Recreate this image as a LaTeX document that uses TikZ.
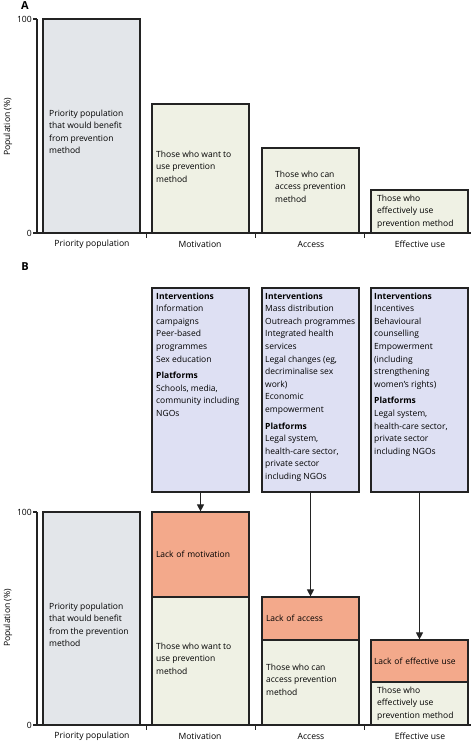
\documentclass[tikz,border=0pt]{standalone}
\usepackage{fontspec}
\setmainfont{Open Sans}
\usetikzlibrary{arrows.meta}

\definecolor{popgray}{RGB}{227,230,234}
\definecolor{usegreen}{RGB}{239,241,228}
\definecolor{lackred}{RGB}{243,169,139}
\definecolor{intblue}{RGB}{222,224,243}
\definecolor{edgegray}{RGB}{35,35,35}

\tikzset{
  txt/.style={font=\fontsize{8.5}{12.6}\selectfont, inner sep=0pt, align=left, anchor=north west, execute at begin node=\strut},
  catlabel/.style={font=\fontsize{8.6}{11}\selectfont, inner sep=0pt},
  bar/.style={draw=edgegray, line width=1.2pt},
  lackbar/.style={bar, fill=lackred, minimum width=97pt, text width=89pt, inner xsep=4pt, inner ysep=0pt, align=left, font=\fontsize{8.5}{12.6}\selectfont},
  intbox/.style={bar, fill=intblue, minimum width=97pt, minimum height=204pt, inner sep=0pt},
  axis/.style={draw=edgegray, line width=1.6pt},
  conn/.style={draw=edgegray, line width=1pt, -{Triangle[width=7pt,length=7pt]}},
  panel/.style={font=\fontsize{11}{13}\selectfont\bfseries, inner sep=0pt}
}

\begin{document}
\begin{tikzpicture}[x=1pt,y=1pt,yscale=-1,xscale=1]
\useasboundingbox (0,0) rectangle (474,742);

%%%%%%%%%%%%%%%% panel A
\node[panel] (labA) at (25,6) {A};
% axis label
\node[catlabel, rotate=90] (ylabA) at (8,127) {Population (\%)};

%Shape: bars
\draw[bar, fill=popgray] (43,19) rectangle (140,233);
\draw[bar, fill=usegreen] (152,104) rectangle (249,233);
\draw[bar, fill=usegreen] (262,148) rectangle (359,233);
\draw[bar, fill=usegreen] (371,190) rectangle (468,233);

%Straight Lines: axis
\draw[axis] (37,19) -- (37,233) -- (471,233);
\draw[axis] (33,19) -- (37,19);
\draw[axis] (33,233) -- (37,233);
\foreach \sx in {146,255,364} \draw[edgegray, line width=1pt] (\sx,233) -- (\sx,238);

% Text Node
\node[catlabel, anchor=east] (hundA) at (32,19) {100};
\node[catlabel, anchor=east] (zeroA) at (32,233) {0};
\node[txt] (popA) at (49,109.5) {Priority population\\that would benefit\\from prevention\\method};
\node[txt] (wantA) at (156,150.5) {Those who want to\\use prevention\\method};
\node[txt] (accA) at (275,170.5) {Those who can\\access prevention\\method};
\node[txt] (effA) at (377,194.5) {Those who\\effectively use\\prevention method};
\node[catlabel] (catpopA) at (92,244) {Priority population};
\node[catlabel] (catmotA) at (200,244) {Motivation};
\node[catlabel] (cataccA) at (311,244) {Access};
\node[catlabel] (cateffA) at (420,244) {Effective use};

%%%%%%%%%%%%%%%% panel B
\node[panel] (labB) at (25,267) {B};
\node[catlabel, rotate=90] (ylabB) at (8,618) {Population (\%)};

%Shape: intervention boxes
\node[intbox] (intmot) at (200.5,390) {};
\node[intbox] (intacc) at (310.5,390) {};
\node[intbox] (inteff) at (419.5,390) {};

% Text Node
\node[txt] (intmottxt) at (156,292.5) {\textbf{Interventions}\\Information\\campaigns\\Peer-based\\programmes\\Sex education\\[4pt]\textbf{Platforms}\\Schools, media,\\community including\\NGOs};
\node[txt] (intacctxt) at (265,292.5) {\textbf{Interventions}\\Mass distribution\\Outreach programmes\\Integrated health\\services\\Legal changes (eg,\\decriminalise sex\\work)\\Economic\\empowerment\\[4pt]\textbf{Platforms}\\Legal system,\\health-care sector,\\private sector\\including NGOs};
\node[txt] (intefftxt) at (374,292.5) {\textbf{Interventions}\\Incentives\\Behavioural\\counselling\\Empowerment\\(including\\strengthening\\women's rights)\\[4pt]\textbf{Platforms}\\Legal system,\\health-care sector,\\private sector\\including NGOs};

%Shape: bars
\draw[bar, fill=popgray] (43,512) rectangle (140,725);
\draw[bar, fill=usegreen] (152,597) rectangle (249,725);
\draw[bar, fill=usegreen] (262,640) rectangle (359,725);
\draw[bar, fill=usegreen] (371,682) rectangle (468,725);
\node[lackbar, minimum height=85pt] (lackmot) at (200.5,554.5) {Lack of motivation};
\node[lackbar, minimum height=43pt] (lackacc) at (310.5,618.5) {Lack of access};
\node[lackbar, minimum height=42pt, inner xsep=3pt, text width=91pt] (lackeff) at (419.5,661) {Lack of effective use};

%Straight Lines: axis
\draw[axis] (37,512) -- (37,725) -- (471,725);
\draw[axis] (33,512) -- (37,512);
\draw[axis] (33,725) -- (37,725);
\foreach \sx in {146,255,364} \draw[edgegray, line width=1pt] (\sx,725) -- (\sx,730);

% arrows
\draw[conn] (intmot.south) -- (lackmot.north);
\draw[conn] (intacc.south) -- (lackacc.north);
\draw[conn] (inteff.south) -- (lackeff.north);

% Text Node
\node[catlabel, anchor=east] (hundB) at (32,512) {100};
\node[catlabel, anchor=east] (zeroB) at (32,725) {0};
\node[txt] (popB) at (49,602.5) {Priority population\\that would benefit\\from the prevention\\method};
\node[txt] (wantB) at (156,642.5) {Those who want to\\use prevention\\method};
\node[txt] (accB) at (266,663.5) {Those who can\\access prevention\\method};
\node[txt] (effB) at (377,686.5) {Those who\\effectively use\\prevention method};
\node[catlabel] (catpopB) at (92,736) {Priority population};
\node[catlabel] (catmotB) at (200,736) {Motivation};
\node[catlabel] (cataccB) at (311,736) {Access};
\node[catlabel] (cateffB) at (420,736) {Effective use};

\end{tikzpicture}
\end{document}
